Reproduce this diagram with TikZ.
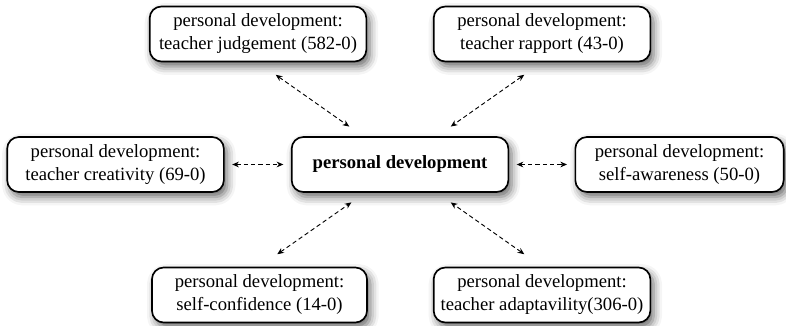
\documentclass[tikz,border=0pt]{standalone}
\usepackage{fontspec}
\setmainfont{Liberation Serif}
\usetikzlibrary{arrows.meta,calc,shadows.blur}

\tikzset{
  devbox/.style={draw, line width=1pt, rounded corners=7pt, fill=white,
    align=center, minimum width=130pt, minimum height=33pt, inner sep=2pt,
    font=\fontsize{11.2}{13.8}\selectfont,
    blur shadow={shadow xshift=2pt, shadow yshift=-3pt,
      shadow blur radius=5pt, shadow opacity=60}},
  link/.style={dash pattern=on 2.6pt off 1.8pt, line width=0.55pt,
    {Stealth[length=4pt,width=3.4pt]}-{Stealth[length=4pt,width=3.4pt]}}
}

\begin{document}
\begin{tikzpicture}[x=0.6pt,y=0.6pt]
        \useasboundingbox (0,0) rectangle (786,326);
        \node[devbox] (cen) at (400,161.5) {\textbf{personal development}};
        \node[devbox] (judge) at (258,292) {personal development:\\teacher judgement (582-0)};
        \node[devbox] (rapport) at (542,292) {personal development:\\teacher rapport (43-0)};
        \node[devbox] (creat) at (115.5,161.5) {personal development:\\teacher creativity (69-0)};
        \node[devbox, minimum width=125pt] (aware) at (679.5,161.5) {personal development:\\self-awareness (50-0)};
        \node[devbox, minimum width=129pt] (conf) at (259.5,31) {personal development:\\self-confidence (14-0)};
        \node[devbox] (adapt) at (542,31) {personal development:\\teacher adaptavility(306-0)};
        \draw[link, shorten <=13pt, shorten >=10pt] (judge.south) -- ($(cen.north west)!0.33!(cen.north east)$);
        \draw[link, shorten <=13pt, shorten >=10pt] (rapport.south) -- ($(cen.north west)!0.67!(cen.north east)$);
        \draw[link, shorten <=13pt, shorten >=10pt] (conf.north) -- ($(cen.south west)!0.34!(cen.south east)$);
        \draw[link, shorten <=13pt, shorten >=10pt] (adapt.north) -- ($(cen.south west)!0.67!(cen.south east)$);
        \draw[link, shorten <=4.5pt, shorten >=4.5pt] (creat.east) -- (cen.west);
        \draw[link, shorten <=4.5pt, shorten >=4.5pt] (cen.east) -- (aware.west);
\end{tikzpicture}
\end{document}
